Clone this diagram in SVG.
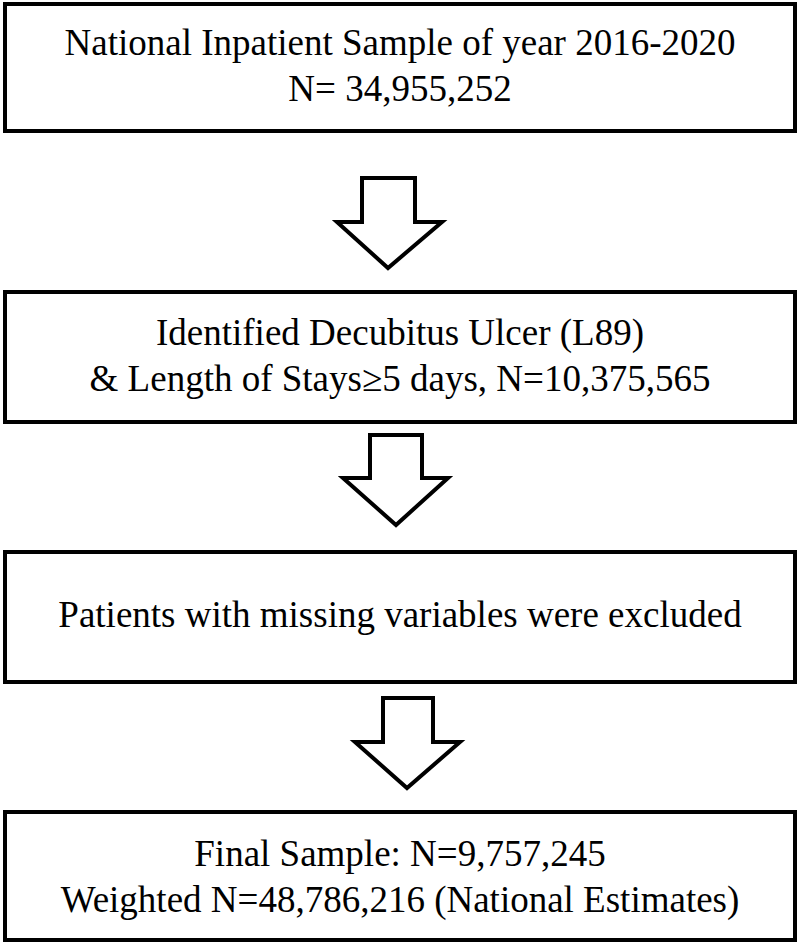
<svg xmlns="http://www.w3.org/2000/svg" width="800" height="944" viewBox="0 0 800 944">
<style>
.box{fill:#fff;stroke:#000;stroke-width:4}
.arr{fill:#fff;stroke:#000;stroke-width:4;stroke-linejoin:miter}
text{font-family:"Liberation Serif","Times New Roman",serif;font-size:37px;fill:#000;text-anchor:middle}
</style>
<rect width="800" height="944" fill="#fff"/>
<g id="connectors">
<polygon class="arr" points="362,178 415,178 415,222 442,222 388,268 337,222 362,222"/>
<polygon class="arr" points="370,435 422,435 422,478 448,478 396,525 343,478 370,478"/>
<polygon class="arr" points="383,698 433,698 433,742 460,742 407,788 355,742 383,742"/>
</g>
<g id="n1"><rect class="box" x="5" y="4" width="790" height="127"/>
<text x="400" y="55">National Inpatient Sample of year 2016-2020</text>
<text x="400" y="101">N= 34,955,252</text></g>
<g id="n2"><rect class="box" x="5" y="292" width="790" height="130"/>
<text x="400" y="345">Identified Decubitus Ulcer (L89)</text>
<text x="400" y="391">&amp; Length of Stays≥5 days, N=10,375,565</text></g>
<g id="n3"><rect class="box" x="5" y="552" width="790" height="130"/>
<text x="400" y="627">Patients with missing variables were excluded</text></g>
<g id="n4"><rect class="box" x="5" y="812" width="790" height="128"/>
<text x="400" y="866">Final Sample: N=9,757,245</text>
<text x="400" y="912">Weighted N=48,786,216 (National Estimates)</text></g>
</svg>
